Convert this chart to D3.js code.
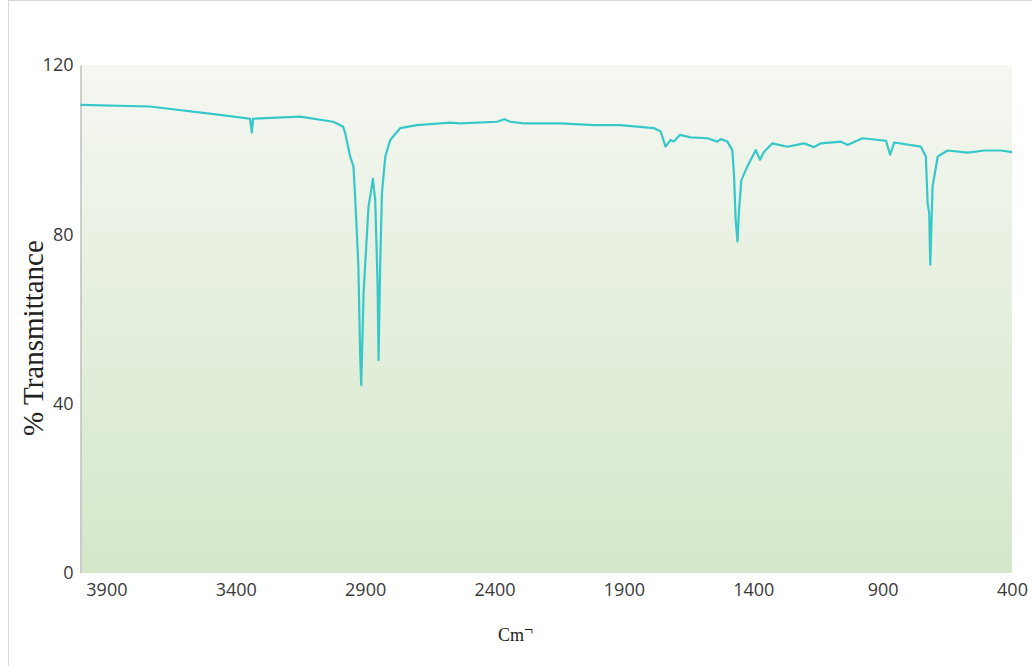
<!DOCTYPE html>
<meta charset="utf-8" />
<title>IR spectrum</title>
<script src="https://d3js.org/d3.v7.min.js"></script>
<style>
  body { margin: 0; background: #fff; }
  .tick text { font-family: "Open Sans", sans-serif; font-size: 18px; fill: #3a3a3a; }
</style>
<svg id="chart" width="1032" height="666"></svg>
<script>
  // wavenumber (cm-1) and % transmittance
  var wavenumber = [4000, 3732, 3461, 3356, 3345, 3338, 3333, 3151, 3024, 2997, 2985, 2977,
    2958, 2945, 2938, 2926, 2919, 2915, 2906, 2887, 2870, 2861, 2852, 2848, 2842, 2835,
    2822, 2803, 2764, 2700, 2571, 2532, 2390, 2362, 2339, 2287, 2145, 2016, 1913, 1784,
    1758, 1739, 1719, 1707, 1683, 1642, 1577, 1539, 1526, 1500, 1481, 1474, 1468, 1461,
    1455, 1446, 1423, 1390, 1374, 1358, 1326, 1268, 1204, 1165, 1139, 1061, 1036, 978,
    887, 871, 855, 752, 733, 726, 720, 716, 707, 687, 649, 571, 507, 442, 400];
  var transmittance = [110.6, 110.2, 108.2, 107.4, 107.3, 104.0, 107.3, 107.8, 106.6, 105.8, 105.4, 103.9,
    98.4, 96.0, 88.1, 72.4, 51.1, 44.4, 66.1, 86.5, 93.1, 88.1, 68.4, 50.3, 72.4, 89.7,
    98.4, 102.3, 105.1, 105.8, 106.4, 106.2, 106.6, 107.2, 106.6, 106.2, 106.2, 105.8, 105.8, 105.1,
    104.3, 100.7, 102.3, 101.9, 103.5, 102.9, 102.7, 101.9, 102.5, 101.9, 99.9, 93.6, 83.4, 78.3,
    85.7, 92.8, 96.0, 99.9, 97.6, 99.5, 101.5, 100.7, 101.5, 100.6, 101.5, 101.9, 101.1, 102.7,
    102.1, 98.8, 101.7, 100.7, 98.4, 87.3, 85.0, 72.8, 91.3, 98.4, 99.8, 99.3, 99.8, 99.8, 99.4];
  var xTicks = [3900, 3400, 2900, 2400, 1900, 1400, 900, 400];
  var yTicks = [0, 40, 80, 120];

  var svg = d3.select("#chart");
  var plotLeft = 80.5, plotRight = 1012, plotTop = 65, plotBottom = 573;

  // outer frame
  svg.append("rect")
    .attr("x", 8.5).attr("y", 0.5)
    .attr("width", 1040).attr("height", 680)
    .attr("fill", "none").attr("stroke", "#d9d9d9");

  var x = d3.scaleLinear().domain([4000, 400]).range([plotLeft, plotRight]);
  var y = d3.scaleLinear().domain([0, 120]).range([plotBottom, plotTop]);

  // plot background gradient
  var grad = svg.append("defs").append("linearGradient")
    .attr("id", "bg").attr("x1", 0).attr("y1", 0).attr("x2", 0).attr("y2", 1);
  grad.append("stop").attr("offset", "0%").attr("stop-color", "#f5f7f2");
  grad.append("stop").attr("offset", "100%").attr("stop-color", "#d4e7c9");

  svg.append("rect")
    .attr("x", plotLeft).attr("y", plotTop)
    .attr("width", plotRight - plotLeft).attr("height", plotBottom - plotTop)
    .attr("fill", "url(#bg)");

  // axes
  var gx = svg.append("g")
    .attr("transform", "translate(0," + plotBottom + ")")
    .call(d3.axisBottom(x).tickValues(xTicks).tickFormat(d3.format("d")).tickSize(0).tickPadding(10));
  gx.select(".domain").remove();
  gx.selectAll("text").attr("dy", "0.71em");

  var gy = svg.append("g")
    .attr("transform", "translate(" + plotLeft + ",0)")
    .call(d3.axisLeft(y).tickValues(yTicks).tickFormat(d3.format("d")).tickSize(0).tickPadding(7));
  gy.select(".domain").attr("stroke", "#c0c0c0").attr("stroke-width", 1.5);

  // spectrum line
  var pts = wavenumber.map(function(w, i) { return [w, transmittance[i]]; });
  svg.append("path")
    .datum(pts)
    .attr("fill", "none")
    .attr("stroke", "#36c8c8")
    .attr("stroke-width", 2.2)
    .attr("stroke-linejoin", "round")
    .attr("d", d3.line().x(function(d) { return x(d[0]); }).y(function(d) { return y(d[1]); }));

  // axis titles
  svg.append("text")
    .attr("transform", "translate(43,338) rotate(-90)")
    .attr("text-anchor", "middle")
    .attr("font-family", "Liberation Serif, serif")
    .attr("font-size", 29)
    .attr("fill", "#222")
    .text("% Transmittance");

  var xt = svg.append("text")
    .attr("x", 498).attr("y", 641)
    .attr("font-family", "Liberation Serif, serif")
    .attr("font-size", 18)
    .attr("fill", "#222");
  xt.append("tspan").text("Cm");
  xt.append("tspan").attr("dy", -6).attr("font-size", 16).text("\u00AC");
</script>
